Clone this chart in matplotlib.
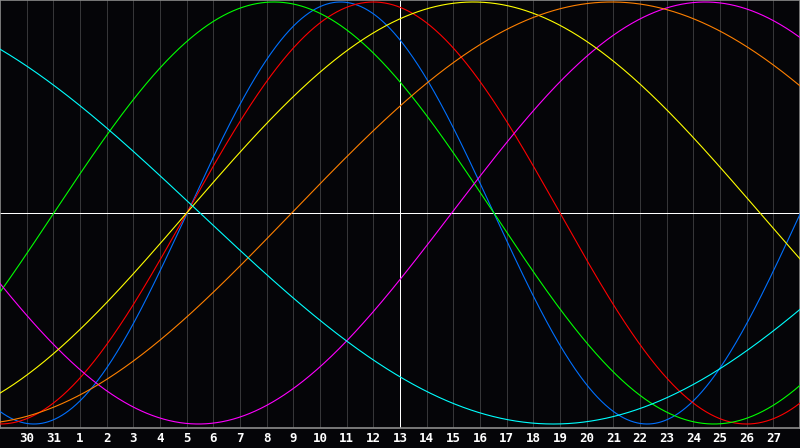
import numpy as np
import matplotlib
matplotlib.use("Agg")
import matplotlib.pyplot as plt

# biorhythm cycles: length in days and the day (chart units) where each curve crosses zero going up
periods = [23, 28, 33, 38, 43, 48, 53]
rise_day = [7.02, 7.0, 2.02, 16.94, 7.0, 10.94, -19.0]
colors = ["#0070ff", "#ff0000", "#00ff00", "#ff00ff", "#ffff00", "#ff8000", "#00ffff"]

n_days = 30
day_labels = ["30", "31"] + [str(i) for i in range(1, 28)]
today = 15  # position of "13"

BG = "#050508"; GRID = "#363638"; BORDER = "#8c8c8c"
PX = 0.72  # one pixel in points at dpi 100

fig = plt.figure(figsize=(8, 4.48), dpi=100, facecolor=BG)
ax = fig.add_axes([0, 20 / 448, 1, 428 / 448])
ax.set_facecolor(BG)

ax.set_xlim(0, n_days)
ax.set_ylim((213 - 428) / 211, 213 / 211)

for k in range(1, n_days):
    ax.axvline(k, color=GRID, lw=PX, zorder=1, antialiased=False)

t = np.linspace(0, n_days, 1601)
for P, d0, c in zip(periods, rise_day, colors):
    ax.plot(t, np.sin(2 * np.pi * (t - d0) / P), color=c, lw=0.8, zorder=3)

ax.axhline(0, color="white", lw=PX, zorder=2, antialiased=False)
ax.axvline(today, color="white", lw=PX, zorder=2, antialiased=False)

ax.set_xticks(range(1, n_days))
ax.set_xticklabels(day_labels, color="white", fontsize=9, fontweight="bold", family="DejaVu Sans Mono")
ax.tick_params(axis="x", length=0, pad=3)
ax.set_yticks([])
for s in ax.spines.values():
    s.set_color(BORDER); s.set_linewidth(1.2)

fig.savefig("out.png", dpi=100, facecolor=BG)
